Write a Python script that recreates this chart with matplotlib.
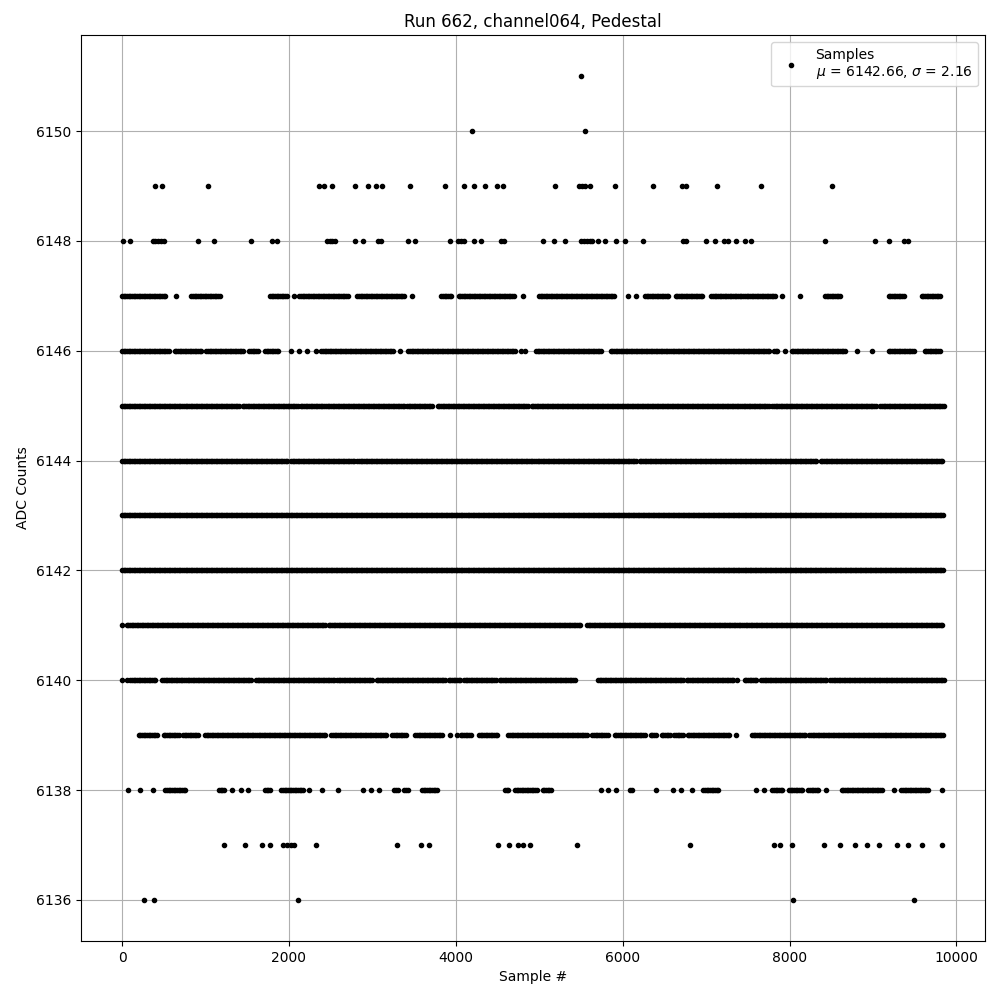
import numpy as np
from matplotlib import pyplot as plt

# ADC level -> stretches of sample numbers where dots sit (start, end); start == end is a lone dot
runs_6151 = [(5499, 5499)]
runs_6150 = [(4199, 4199), (5546, 5546)]
runs_6149 = [(398, 398), (478, 478), (1028, 1028), (2355, 2355), (2421, 2421), (2514, 2514),
             (2786, 2786), (2952, 2952), (3038, 3038), (3118, 3118), (3456, 3456), (3874, 3874),
             (4093, 4093), (4212, 4212), (4345, 4345), (4491, 4491), (4570, 4570), (5187, 5187),
             (5472, 5472), (5512, 5512), (5552, 5552), (5605, 5605), (5903, 5903), (6361, 6361),
             (6706, 6706), (6753, 6753), (7131, 7131), (7661, 7661), (8510, 8510)]
runs_6148 = [(13, 13), (100, 100), (365, 365), (398, 398), (431, 431), (464, 464), (497, 497),
             (909, 909), (1101, 1101), (1545, 1545), (1791, 1791), (1857, 1857), (2454, 2454),
             (2487, 2487), (2521, 2521), (2554, 2554), (2786, 2786), (2885, 2885), (3064, 3064),
             (3098, 3098), (3429, 3429), (3515, 3515), (3927, 3927), (4026, 4026), (4059, 4059),
             (4093, 4093), (4212, 4212), (4298, 4298), (4544, 4544), (4577, 4577), (5048, 5048),
             (5174, 5174), (5306, 5306), (5505, 5505), (5538, 5538), (5572, 5572), (5605, 5605),
             (5638, 5638), (5704, 5704), (5791, 5791), (5917, 5917), (6023, 6023), (6248, 6248),
             (6719, 6719), (6753, 6753), (6998, 6998), (7111, 7111), (7217, 7217), (7263, 7263),
             (7363, 7363), (7462, 7462), (7542, 7542), (8424, 8424), (9021, 9021), (9187, 9187),
             (9366, 9366), (9419, 9419)]
runs_6147 = [(0, 530), (643, 643), (829, 1174), (1771, 1977), (2056, 2056), (2123, 2720),
             (2819, 3383), (3469, 3469), (3827, 3947), (4033, 4709), (4809, 4809), (4995, 5903),
             (6069, 6069), (6155, 6155), (6268, 6567), (6633, 6965), (7064, 7827), (7913, 7913),
             (8125, 8125), (8424, 8623), (9187, 9386), (9585, 9817)]
runs_6146 = [(0, 564), (630, 962), (1008, 1459), (1526, 1645), (1711, 1890), (2023, 2023),
             (2123, 2123), (2222, 2222), (2322, 2322), (2388, 3250), (3330, 3330), (3429, 4709),
             (4776, 4776), (4829, 4829), (4962, 5757), (5857, 7761), (7814, 7860), (7946, 7946),
             (8026, 8676), (8809, 8809), (8988, 8988), (9187, 9498), (9618, 9817)]
runs_6145 = [(0, 1406), (1446, 2109), (2142, 3383), (3416, 3734), (3781, 4862), (4908, 7751),
             (7794, 9041), (9087, 9850)]
runs_6144 = [(0, 1990), (2023, 2786), (2819, 6169), (6202, 8324), (8371, 9850)]
runs_6143 = [(0, 9850)]
runs_6142 = [(0, 9850)]
runs_6141 = [(0, 0), (53, 2441), (2474, 5505), (5572, 9850)]
runs_6140 = [(0, 0), (53, 53), (99, 411), (484, 1559), (1605, 2554), (2574, 3005), (3051, 3880),
             (3913, 4059), (4099, 4498), (4524, 5439), (5704, 6732), (6766, 7330), (7376, 7376),
             (7462, 7615), (7661, 8457), (8490, 9850)]
runs_6139 = [(199, 431), (497, 696), (730, 929), (995, 2454), (2507, 3184), (3237, 3416),
             (3515, 3847), (3927, 3927), (4013, 4013), (4059, 4179), (4278, 4510), (4630, 5572),
             (5638, 5837), (5903, 6268), (6335, 6401), (6467, 6567), (6620, 6733), (6779, 7296),
             (7363, 7363), (7549, 8192), (8238, 9850)]
runs_6138 = [(66, 66), (219, 219), (365, 365), (517, 763), (1161, 1227), (1313, 1313),
             (1426, 1426), (1512, 1512), (1711, 1778), (1910, 2189), (2242, 2242), (2401, 2401),
             (2587, 2587), (2892, 2892), (2985, 2985), (3078, 3078), (3263, 3317), (3383, 3429),
             (3595, 3794), (4590, 4643), (4709, 4975), (5041, 5154), (5738, 5738), (5824, 5824),
             (5917, 5917), (6089, 6116), (6401, 6401), (6600, 6600), (6700, 6700), (6832, 6832),
             (6965, 7164), (7595, 7595), (7694, 7694), (7794, 7927), (7993, 8159), (8225, 8358),
             (8437, 8437), (8623, 9120), (9253, 9253), (9339, 9671), (9830, 9830)]
runs_6137 = [(1227, 1227), (1479, 1479), (1678, 1678), (1778, 1778), (1924, 1924), (1977, 1977),
             (2023, 2023), (2056, 2056), (2322, 2322), (3290, 3290), (3582, 3582), (3681, 3681),
             (4510, 4510), (4643, 4643), (4743, 4743), (4809, 4809), (4888, 4888), (5452, 5452),
             (6806, 6806), (7814, 7814), (7880, 7880), (8033, 8033), (8417, 8417), (8610, 8610),
             (8789, 8789), (8928, 8928), (9074, 9074), (9286, 9286), (9419, 9419), (9592, 9592),
             (9830, 9830)]
runs_6136 = [(265, 265), (385, 385), (2109, 2109), (8046, 8046), (9492, 9492)]

levels = {6151: runs_6151, 6150: runs_6150, 6149: runs_6149, 6148: runs_6148,
          6147: runs_6147, 6146: runs_6146, 6145: runs_6145, 6144: runs_6144,
          6143: runs_6143, 6142: runs_6142, 6141: runs_6141, 6140: runs_6140,
          6139: runs_6139, 6138: runs_6138, 6137: runs_6137, 6136: runs_6136}

mean = 6142.66
sigma = 2.16

x = []
y = []
for adc, runs in levels.items():
    for start, end in runs:
        pts = np.arange(start, end + 1, 20)
        x.extend(pts)
        y.extend([adc] * len(pts))

fig = plt.figure(figsize=(10, 10), dpi=100)
plt.plot(x, y, ".", color="black", label="Samples\n$\\mu$ = %.2f, $\\sigma$ = %.2f" % (mean, sigma))
plt.yticks(np.arange(6136, 6151, 2))
plt.xlabel("Sample #")
plt.ylabel("ADC Counts")
plt.title("Run 662, channel064, Pedestal")
plt.grid(True)
plt.legend(loc="upper right")
plt.subplots_adjust(left=0.081, right=0.985, top=0.965, bottom=0.059)
plt.savefig("out.png")
